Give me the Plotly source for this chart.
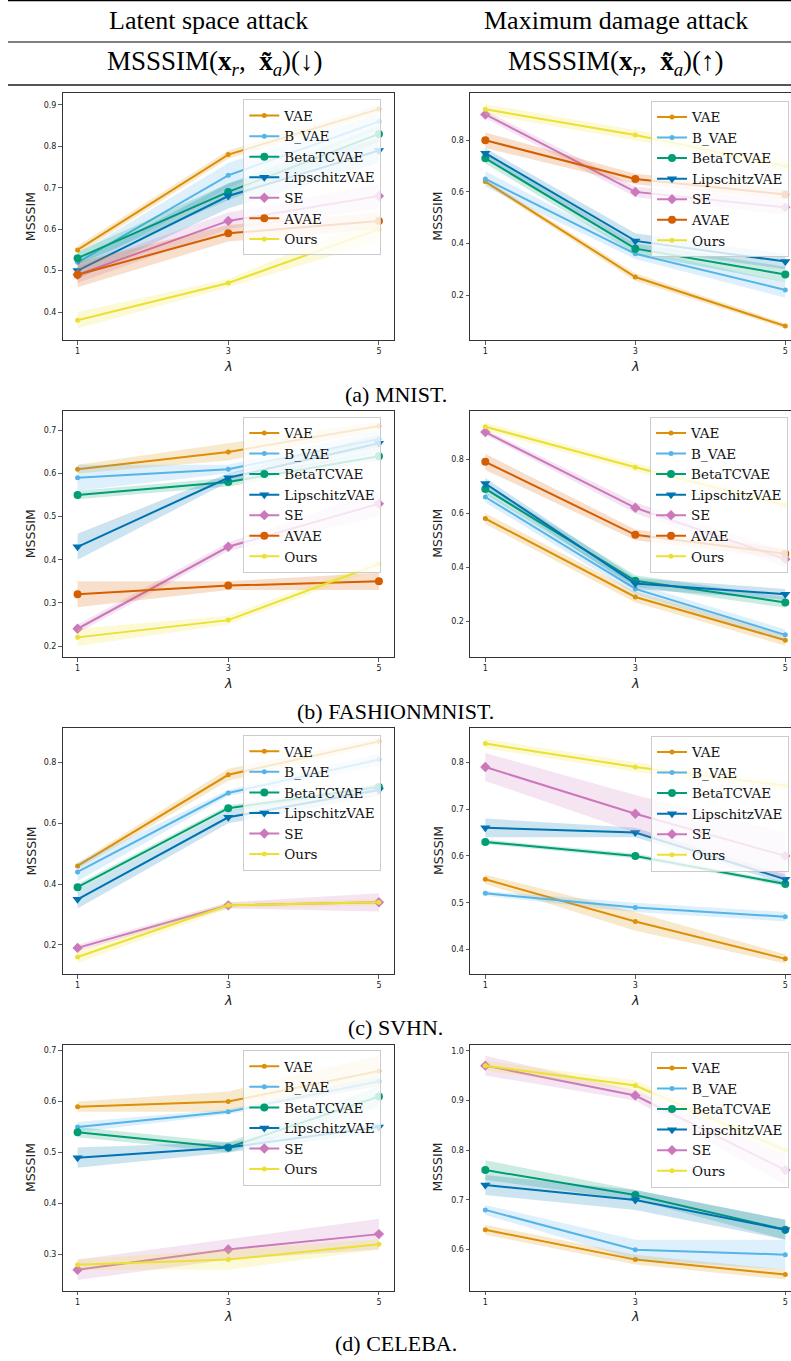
import plotly.graph_objects as go

W, H = 791, 1361
LAMBDA = [1, 3, 5]
X_TICKS = [1, 3, 5]

METHODS = ["VAE", "B_VAE", "BetaTCVAE", "LipschitzVAE", "SE", "AVAE", "Ours"]

# ---------------- data (mean, half-width of shaded band) ----------------
mnist_lat_mean = {"VAE": [0.55, 0.78, 0.89], "B_VAE": [0.52, 0.73, 0.86], "BetaTCVAE": [0.53, 0.69, 0.83],
                  "LipschitzVAE": [0.50, 0.68, 0.79], "SE": [0.49, 0.62, 0.68], "AVAE": [0.49, 0.59, 0.62],
                  "Ours": [0.38, 0.47, 0.60]}
mnist_lat_err = {"VAE": [0.01, 0.01, 0.01], "B_VAE": [0.02, 0.03, 0.02], "BetaTCVAE": [0.015, 0.02, 0.02],
                 "LipschitzVAE": [0.02, 0.03, 0.03], "SE": [0.02, 0.02, 0.03], "AVAE": [0.03, 0.02, 0.02],
                 "Ours": [0.02, 0.01, 0.03]}

mnist_max_mean = {"VAE": [0.64, 0.27, 0.08], "B_VAE": [0.65, 0.36, 0.22], "BetaTCVAE": [0.73, 0.38, 0.28],
                  "LipschitzVAE": [0.75, 0.41, 0.33], "SE": [0.90, 0.60, 0.54], "AVAE": [0.80, 0.65, 0.59],
                  "Ours": [0.92, 0.82, 0.70]}
mnist_max_err = {"VAE": [0.01, 0.015, 0.01], "B_VAE": [0.03, 0.02, 0.03], "BetaTCVAE": [0.02, 0.02, 0.03],
                 "LipschitzVAE": [0.02, 0.03, 0.03], "SE": [0.015, 0.02, 0.03], "AVAE": [0.03, 0.02, 0.02],
                 "Ours": [0.02, 0.02, 0.02]}

fashion_lat_mean = {"VAE": [0.61, 0.65, 0.71], "B_VAE": [0.59, 0.61, 0.68], "BetaTCVAE": [0.55, 0.58, 0.64],
                    "LipschitzVAE": [0.43, 0.59, 0.67], "SE": [0.24, 0.43, 0.53], "AVAE": [0.32, 0.34, 0.35],
                    "Ours": [0.22, 0.26, 0.39]}
fashion_lat_err = {"VAE": [0.01, 0.02, 0.01], "B_VAE": [0.03, 0.01, 0.02], "BetaTCVAE": [0.01, 0.01, 0.01],
                   "LipschitzVAE": [0.03, 0.01, 0.02], "SE": [0.01, 0.01, 0.03], "AVAE": [0.03, 0.01, 0.02],
                   "Ours": [0.02, 0.01, 0.01]}

fashion_max_mean = {"VAE": [0.58, 0.29, 0.13], "B_VAE": [0.66, 0.32, 0.15], "BetaTCVAE": [0.69, 0.35, 0.27],
                    "LipschitzVAE": [0.71, 0.34, 0.30], "SE": [0.90, 0.62, 0.43], "AVAE": [0.79, 0.52, 0.45],
                    "Ours": [0.92, 0.77, 0.63]}
fashion_max_err = {"VAE": [0.02, 0.02, 0.02], "B_VAE": [0.02, 0.02, 0.02], "BetaTCVAE": [0.02, 0.02, 0.02],
                   "LipschitzVAE": [0.02, 0.02, 0.02], "SE": [0.01, 0.02, 0.03], "AVAE": [0.03, 0.02, 0.02],
                   "Ours": [0.015, 0.015, 0.015]}

svhn_lat_mean = {"VAE": [0.46, 0.76, 0.87], "B_VAE": [0.44, 0.70, 0.81], "BetaTCVAE": [0.39, 0.65, 0.72],
                 "LipschitzVAE": [0.35, 0.62, 0.71], "SE": [0.19, 0.33, 0.34], "Ours": [0.16, 0.33, 0.34]}
svhn_lat_err = {"VAE": [0.01, 0.02, 0.01], "B_VAE": [0.03, 0.01, 0.02], "BetaTCVAE": [0.01, 0.01, 0.01],
                "LipschitzVAE": [0.03, 0.02, 0.02], "SE": [0.01, 0.01, 0.03], "Ours": [0.02, 0.01, 0.01]}

svhn_max_mean = {"VAE": [0.55, 0.46, 0.38], "B_VAE": [0.52, 0.49, 0.47], "BetaTCVAE": [0.63, 0.60, 0.54],
                 "LipschitzVAE": [0.66, 0.65, 0.55], "SE": [0.79, 0.69, 0.60], "Ours": [0.84, 0.79, 0.75]}
svhn_max_err = {"VAE": [0.01, 0.02, 0.01], "B_VAE": [0.005, 0.01, 0.01], "BetaTCVAE": [0.005, 0.005, 0.005],
                "LipschitzVAE": [0.02, 0.01, 0.01], "SE": [0.03, 0.04, 0.05], "Ours": [0.01, 0.01, 0.01]}

celeba_lat_mean = {"VAE": [0.59, 0.60, 0.66], "B_VAE": [0.55, 0.58, 0.64], "BetaTCVAE": [0.54, 0.51, 0.61],
                   "LipschitzVAE": [0.49, 0.51, 0.55], "SE": [0.27, 0.31, 0.34], "Ours": [0.28, 0.29, 0.32]}
celeba_lat_err = {"VAE": [0.01, 0.02, 0.03], "B_VAE": [0.01, 0.005, 0.01], "BetaTCVAE": [0.01, 0.01, 0.02],
                  "LipschitzVAE": [0.02, 0.01, 0.01], "SE": [0.02, 0.02, 0.03], "Ours": [0.01, 0.02, 0.01]}

celeba_max_mean = {"VAE": [0.64, 0.58, 0.55], "B_VAE": [0.68, 0.60, 0.59], "BetaTCVAE": [0.76, 0.71, 0.64],
                   "LipschitzVAE": [0.73, 0.70, 0.64], "SE": [0.97, 0.91, 0.76], "Ours": [0.97, 0.93, 0.80]}
celeba_max_err = {"VAE": [0.01, 0.01, 0.01], "B_VAE": [0.01, 0.02, 0.03], "BetaTCVAE": [0.02, 0.01, 0.02],
                  "LipschitzVAE": [0.02, 0.02, 0.02], "SE": [0.02, 0.01, 0.03], "Ours": [0.01, 0.01, 0.01]}

COLUMN_HEADERS = ["Latent space attack", "Maximum damage attack"]
METRIC_HEADERS = ["MSSSIM(<b>x</b><sub><i>r</i></sub>,\u2002<b>x\u0303</b><sub><i>a</i></sub>)(\u2193)",
                  "MSSSIM(<b>x</b><sub><i>r</i></sub>,\u2002<b>x\u0303</b><sub><i>a</i></sub>)(\u2191)"]
CAPTIONS = ["(a) MNIST.", "(b) FASHIONMNIST.", "(c) SVHN.", "(d) CELEBA."]

# ---------------- styles ----------------
COLORS = {"VAE": (222, 143, 5), "B_VAE": (86, 180, 233), "BetaTCVAE": (2, 158, 115),
          "LipschitzVAE": (1, 115, 178), "SE": (204, 120, 188), "AVAE": (213, 94, 0),
          "Ours": (236, 225, 51)}
MARKERS = {"VAE": ("circle", 5), "B_VAE": ("circle", 5), "BetaTCVAE": ("circle", 8),
           "LipschitzVAE": ("triangle-down", 9), "SE": ("diamond", 8), "AVAE": ("circle", 8),
           "Ours": ("circle", 5)}

LEFT_X = (62.5, 394.0, [0.8, 5.2])
RIGHT_X = (470.0, 791.0, [0.796, 5.076])
ROWS = [(93.3, 340.0), (410.5, 657.0), (727.7, 974.3), (1044.5, 1290.7)]

panels = [
    dict(mean=mnist_lat_mean, err=mnist_lat_err, side="L", row=0, yr=[0.3325, 0.928], dt=0.1, leg=(243.3, 99.3)),
    dict(mean=mnist_max_mean, err=mnist_max_err, side="R", row=0, yr=[0.026, 0.982], dt=0.2, leg=(651, 100.7)),
    dict(mean=fashion_lat_mean, err=fashion_lat_err, side="L", row=1, yr=[0.1745, 0.746], dt=0.1, leg=(243.3, 416.7)),
    dict(mean=fashion_max_mean, err=fashion_max_err, side="R", row=1, yr=[0.068, 0.980], dt=0.2, leg=(650, 416.7)),
    dict(mean=svhn_lat_mean, err=svhn_lat_err, side="L", row=2, yr=[0.103, 0.915], dt=0.2, leg=(243.3, 735)),
    dict(mean=svhn_max_mean, err=svhn_max_err, side="R", row=2, yr=[0.347, 0.874], dt=0.1, leg=(651, 735.7)),
    dict(mean=celeba_lat_mean, err=celeba_lat_err, side="L", row=3, yr=[0.229, 0.712], dt=0.1, leg=(243.3, 1050)),
    dict(mean=celeba_max_mean, err=celeba_max_err, side="R", row=3, yr=[0.5175, 1.0125], dt=0.1, leg=(651, 1051.7)),
]


def fx(px):
    return px / W


def fy(px):
    return 1 - px / H


fig = go.Figure()
layout = dict(width=W, height=H, margin=dict(l=0, r=0, t=0, b=0), paper_bgcolor="white",
              plot_bgcolor="white", showlegend=True)
annotations = []
shapes = []

TICKFONT = dict(family="DejaVu Sans", size=8, color="#222")
AXCOL = "#333"

for i, p in enumerate(panels):
    n = i + 1
    xa = "x" if n == 1 else f"x{n}"
    ya = "y" if n == 1 else f"y{n}"
    lg = "legend" if n == 1 else f"legend{n}"
    x0, x1, xr = LEFT_X if p["side"] == "L" else RIGHT_X
    top, bot = ROWS[p["row"]]

    for m in METHODS:
        if m not in p["mean"]:
            continue
        mu = p["mean"][m]
        e = p["err"][m]
        r, g, b = COLORS[m]
        sym, sz = MARKERS[m]
        fig.add_trace(go.Scatter(
            x=LAMBDA, y=mu, mode="lines+markers", name=m, xaxis=xa, yaxis=ya, legend=lg,
            line=dict(color=f"rgb({r},{g},{b})", width=2),
            marker=dict(symbol=sym, size=sz, color=f"rgb({r},{g},{b})", line=dict(width=0)),
            showlegend=True, hoverinfo="skip"))
        upper = [a + d for a, d in zip(mu, e)]
        lower = [a - d for a, d in zip(mu, e)]
        fig.add_trace(go.Scatter(
            x=LAMBDA + LAMBDA[::-1], y=upper + lower[::-1], mode="lines", fill="toself",
            fillcolor=f"rgba({r},{g},{b},0.2)", line=dict(width=0), xaxis=xa, yaxis=ya,
            showlegend=False, hoverinfo="skip", legend=lg))

    layout["xaxis" if n == 1 else f"xaxis{n}"] = dict(
        domain=[fx(x0), fx(x1)], range=xr, anchor=ya, tickmode="array", tickvals=X_TICKS,
        ticktext=[str(t) for t in X_TICKS], ticks="outside", ticklen=3.5, tickwidth=0.8,
        tickcolor=AXCOL, tickfont=TICKFONT, showgrid=False, zeroline=False, showline=True,
        linecolor=AXCOL, linewidth=1, mirror=True)
    layout["yaxis" if n == 1 else f"yaxis{n}"] = dict(
        domain=[fy(bot), fy(top)], range=p["yr"], anchor=xa, dtick=p["dt"], tick0=0,
        tickformat=".1f", ticks="outside", ticklen=3.5, tickwidth=0.8, tickcolor=AXCOL,
        tickfont=TICKFONT, showgrid=False, zeroline=False, showline=True, linecolor=AXCOL,
        linewidth=1, mirror=(p["side"] == "L"))
    layout[lg] = dict(
        x=fx(p["leg"][0]), y=fy(p["leg"][1]), xanchor="left", yanchor="top",
        bgcolor="rgba(255,255,255,0.8)", bordercolor="#cccccc", borderwidth=1,
        font=dict(family="DejaVu Serif", size=13.5, color="#111"), tracegroupgap=0)

    # axis titles
    annotations.append(dict(text="MSSSIM", xref="paper", yref="paper", x=fx(x0 - 32), y=fy((top + bot) / 2),
                            textangle=-90, showarrow=False, xanchor="center", yanchor="middle",
                            font=dict(family="DejaVu Sans", size=12.5, color="#222")))
    annotations.append(dict(text="<i>\u03bb</i>", xref=xa, yref="paper", x=3, y=fy(bot + 26),
                            showarrow=False, xanchor="center", yanchor="middle",
                            font=dict(family="DejaVu Sans", size=13, color="#222")))

# header texts
SERIF = "Liberation Serif"
for txt, cx in zip(COLUMN_HEADERS, [209, 616]):
    annotations.append(dict(text=txt, xref="paper", yref="paper", x=fx(cx), y=fy(20), showarrow=False,
                            xanchor="center", yanchor="middle", font=dict(family=SERIF, size=26, color="black")))
for txt, cx in zip(METRIC_HEADERS, [215, 616]):
    annotations.append(dict(text=txt, xref="paper", yref="paper", x=fx(cx), y=fy(63), showarrow=False,
                            xanchor="center", yanchor="middle", font=dict(family=SERIF, size=27, color="black")))
for txt, cy in zip(CAPTIONS, [395, 711, 1027, 1343]):
    annotations.append(dict(text=txt, xref="paper", yref="paper", x=fx(395.5), y=fy(cy), showarrow=False,
                            xanchor="center", yanchor="middle", font=dict(family=SERIF, size=22, color="black")))

# table rules
for yy, col, wd in [(0.7, "black", 1.2), (42, "black", 1.2), (85, "#555", 1.8)]:
    shapes.append(dict(type="line", xref="paper", yref="paper", x0=fx(8), x1=1, y0=fy(yy), y1=fy(yy),
                       line=dict(color=col, width=wd)))

layout["annotations"] = annotations
layout["shapes"] = shapes
fig.update_layout(**layout)
fig.write_html("out.html",
               config={"displayModeBar": False, "staticPlot": True},
               post_script="document.body.style.margin='0';document.body.style.padding='0';"
                           "document.body.style.overflow='hidden';")
